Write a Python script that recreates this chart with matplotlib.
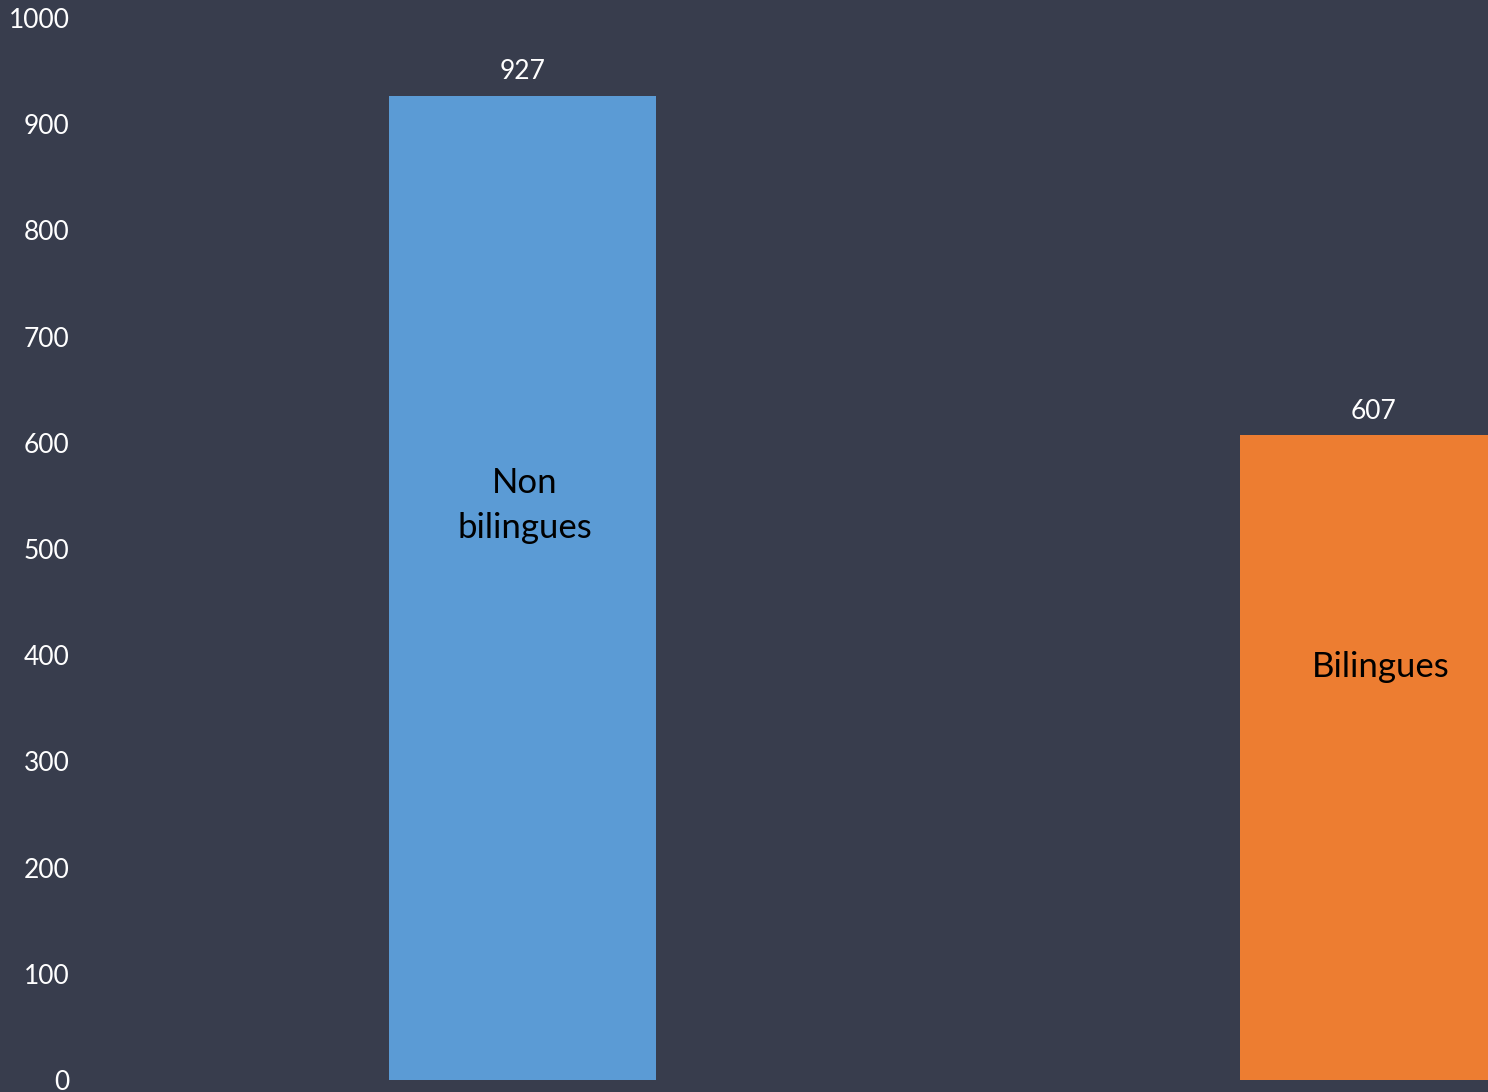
import matplotlib
matplotlib.use("Agg")
import matplotlib.pyplot as plt

# data
categories = ["Non\nbilingues", "Bilingues"]
values = [927, 607]
y_ticks = [0, 100, 200, 300, 400, 500, 600, 700, 800, 900, 1000]

BG = "#383d4d"
BAR_COLOURS = ["#5b9bd5", "#ed7d31"]
FONT = ["Lato", "DejaVu Sans"]

W, H = 1488, 1092
fig = plt.figure(figsize=(W / 100, H / 100), dpi=100, facecolor=BG)
ax = fig.add_axes([80 / W, 12 / H, 1408 / W, 1062 / H])
ax.set_facecolor(BG)

positions = [0, 1]
bar_w = 267 / 851
ax.bar(positions, values, width=bar_w, color=BAR_COLOURS, zorder=2)

ax.set_xlim(-(522.5 - 80) / 851, 1 + (1488 - 1373.5) / 851)
ax.set_ylim(0, 1000)
ax.set_yticks(y_ticks)
ax.set_yticklabels([str(t) for t in y_ticks], family=FONT, fontsize=19, color="white")
ax.tick_params(axis="y", length=0, pad=7.5)
ax.set_xticks([])
for spine in ax.spines.values():
    spine.set_visible(False)

# value labels above bars
for x, v in zip(positions, values):
    ax.annotate(str(v), (x, v), xytext=(0, 17.5), textcoords="offset points",
                ha="center", va="center", color="white", fontsize=19, family=FONT)

# category labels inside bars
label_frac = [0.584, 0.64]
label_dx = [0.003, 0.009]
for x, v, name, f, dx in zip(positions, values, categories, label_frac, label_dx):
    ax.text(x + dx, v * f, name, ha="center", va="center", color="black",
            fontsize=25, family=FONT, linespacing=1.5)

fig.savefig("out.png", dpi=100, facecolor=fig.get_facecolor())
